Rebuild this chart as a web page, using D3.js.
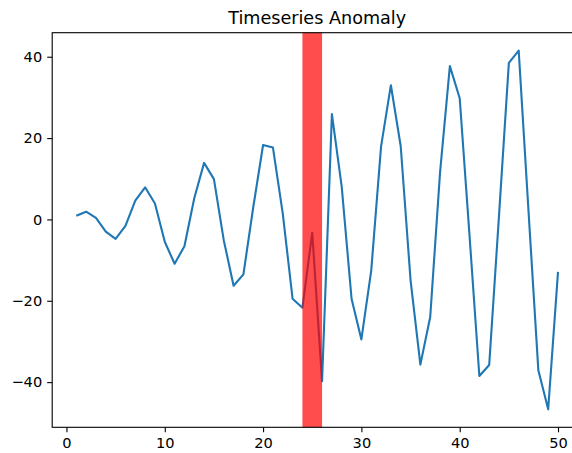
<!DOCTYPE html>
<html>
<head>
<meta charset="utf-8">
<script src="https://cdn.jsdelivr.net/npm/d3@7"></script>
<style>
  body { margin: 0; background: #fff; }
  svg { display: block; font-family: "DejaVu Sans", sans-serif; }
</style>
</head>
<body>
<script>
// time steps 1..50 and the values
const steps = d3.range(1, 51);
const values = [
    0.9, 1.9, 0.4, -3.0, -4.8, -1.6, 4.6, 7.9, 3.9, -5.5,
    -10.9, -6.6, 5.2, 13.9, 9.9, -5.1, -16.3, -13.5, 3.0, 18.3,
    17.7, 1.5, -19.5, -21.7, -3.3, -39.8, 25.9, 8.0, -19.5, -29.5,
    -12.6, 17.9, 33.0, 18.0, -14.9, -35.7, -24.0, 11.5, 37.7, 29.8,
    -4.0, -38.5, -35.8, 1.0, 38.5, 41.5, 2.0, -37.1, -46.7, -12.9
];
const anomaly = [24, 26];
const xTicks = [0, 10, 20, 30, 40, 50];
const yTicks = [-40, -20, 0, 20, 40];

const width = 572, height = 453;
const margin = { left: 52.2, right: 582.1, top: 32.7, bottom: 427.3 };

const svg = d3.select("body").append("svg")
    .attr("width", width)
    .attr("height", height);

// matplotlib style 5% margins
const xPad = (d3.max(steps) - d3.min(steps)) * 0.05;
const x = d3.scaleLinear()
    .domain([d3.min(steps) - xPad, d3.max(steps) + xPad])
    .range([margin.left, margin.right]);
const yPad = (d3.max(values) - d3.min(values)) * 0.05;
const y = d3.scaleLinear()
    .domain([d3.min(values) - yPad, d3.max(values) + yPad])
    .range([margin.bottom, margin.top]);

const data = steps.map((s, i) => ({ t: s, v: values[i] }));

const line = d3.line()
    .x(d => x(d.t))
    .y(d => y(d.v));

svg.append("path")
    .datum(data)
    .attr("fill", "none")
    .attr("stroke", "#1f77b4")
    .attr("stroke-width", 2.1)
    .attr("stroke-linejoin", "round")
    .attr("d", line);

// anomaly window on top of the line
svg.append("rect")
    .attr("x", x(anomaly[0]))
    .attr("y", margin.top)
    .attr("width", x(anomaly[1]) - x(anomaly[0]))
    .attr("height", margin.bottom - margin.top)
    .attr("fill", "red")
    .attr("fill-opacity", 0.7);

const fmt = d => (d < 0 ? "\u2212" + Math.abs(d) : String(d));

const xAxis = svg.append("g")
    .attr("transform", `translate(0,${margin.bottom})`)
    .call(d3.axisBottom(x).tickValues(xTicks).tickSize(5).tickPadding(5).tickFormat(fmt));

const yAxis = svg.append("g")
    .attr("transform", `translate(${margin.left},0)`)
    .call(d3.axisLeft(y).tickValues(yTicks).tickSize(5).tickPadding(5).tickFormat(fmt));

[xAxis, yAxis].forEach(g => {
    g.select(".domain").remove();
    g.selectAll(".tick line").attr("stroke", "#000").attr("stroke-width", 1.1);
    g.selectAll(".tick text")
        .attr("fill", "#000")
        .style("font-size", "14.6px")
        .style("font-family", "DejaVu Sans, sans-serif");
});

// spines
svg.append("rect")
    .attr("x", margin.left)
    .attr("y", margin.top)
    .attr("width", margin.right - margin.left)
    .attr("height", margin.bottom - margin.top)
    .attr("fill", "none")
    .attr("stroke", "#000")
    .attr("stroke-width", 1.1);

svg.append("text")
    .attr("x", (margin.left + margin.right) / 2)
    .attr("y", margin.top - 8.6)
    .attr("text-anchor", "middle")
    .style("font-size", "17.6px")
    .text("Timeseries Anomaly");
</script>
</body>
</html>
